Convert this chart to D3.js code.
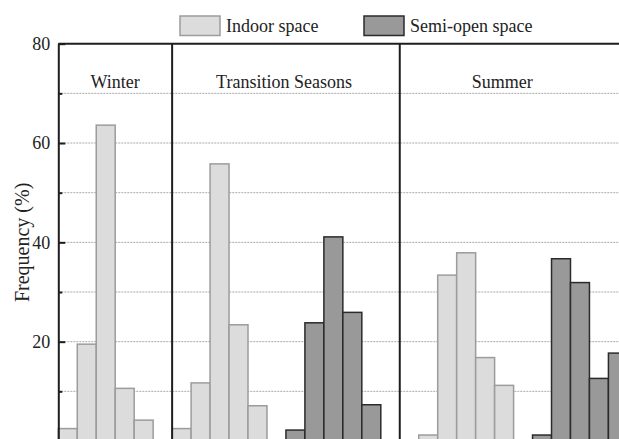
<!DOCTYPE html>
<html>
<head>
<meta charset="utf-8">
<script src="https://cdn.jsdelivr.net/npm/d3@7"></script>
<style>
  html, body { margin: 0; padding: 0; background: #fff; }
  svg { display: block; font-family: "Liberation Serif", "Times New Roman", serif; }
</style>
</head>
<body>
<svg id="chart" width="619" height="439"></svg>
<script>
// Season panels and the number of bin slots each one spans
const seasons = ["Winter", "Transition Seasons", "Summer"];
const panelSlots = [6, 12, 12];

// Frequency (%) per bin; indoor bins start at the panel's first slot,
// semi-open bins start at slot 6 of the panel
const indoorWinter = [2.5, 19.5, 63.6, 10.6, 4.2];
const semiWinter = [];
const indoorTransition = [2.5, 11.7, 55.8, 23.4, 7.1];
const semiTransition = [2.2, 23.8, 41.1, 25.9, 7.3];
const indoorSummer = [0, 1.2, 33.4, 37.9, 16.8, 11.2];
const semiSummer = [0, 1.2, 36.7, 31.9, 12.6, 17.7];

const seriesNames = ["Indoor space", "Semi-open space"];
const majorTicks = [20, 40, 60, 80];
const minorTicks = [10, 30, 50, 70];

const indoorBySeason = [indoorWinter, indoorTransition, indoorSummer];
const semiBySeason = [semiWinter, semiTransition, semiSummer];

// layout
const plotLeft = 58.3, plotRight = 627.4, plotTop = 43.7, plotBottom = 441;
const semiOffset = 6;
const totalSlots = d3.sum(panelSlots);

const svg = d3.select("#chart");
const x = d3.scaleLinear().domain([0, totalSlots]).range([plotLeft, plotRight]);
const y = d3.scaleLinear().domain([0, 80]).range([plotBottom, plotTop]);

const style = {
  indoor: { fill: "#dcdcdc", stroke: "#9c9c9c" },
  semi: { fill: "#999999", stroke: "#2b2b2b" }
};

// panel start slots
const panelStart = [];
panelSlots.reduce((acc, n, i) => { panelStart[i] = acc; return acc + n; }, 0);

// dotted gridlines every 10
svg.append("g").selectAll("line")
  .data(minorTicks.concat(majorTicks.filter(v => v < 80)))
  .join("line")
  .attr("x1", x(0)).attr("x2", x(totalSlots))
  .attr("y1", d => y(d)).attr("y2", d => y(d))
  .attr("stroke", "#aaaaaa")
  .attr("stroke-width", 1)
  .attr("stroke-dasharray", "2,1");

// bars
const bars = [];
seasons.forEach((s, i) => {
  indoorBySeason[i].forEach((v, k) => bars.push({ slot: panelStart[i] + k, value: v, kind: "indoor" }));
  semiBySeason[i].forEach((v, k) => bars.push({ slot: panelStart[i] + semiOffset + k, value: v, kind: "semi" }));
});

svg.append("g").selectAll("rect")
  .data(bars.filter(d => d.value > 0))
  .join("rect")
  .attr("x", d => x(d.slot))
  .attr("width", d => x(d.slot + 1) - x(d.slot))
  .attr("y", d => y(d.value))
  .attr("height", d => y(0) - y(d.value))
  .attr("fill", d => style[d.kind].fill)
  .attr("stroke", d => style[d.kind].stroke)
  .attr("stroke-width", 1.5);

// panel dividers and top frame
svg.append("g").selectAll("line")
  .data(panelStart.slice(1))
  .join("line")
  .attr("x1", d => x(d)).attr("x2", d => x(d))
  .attr("y1", y(80)).attr("y2", y(0))
  .attr("stroke", "#1e1e1e").attr("stroke-width", 2);

svg.append("line")
  .attr("x1", x(0)).attr("x2", x(totalSlots))
  .attr("y1", y(80)).attr("y2", y(80))
  .attr("stroke", "#1e1e1e").attr("stroke-width", 2);

// left axis: major ticks with labels, minor ticks inward
const yAxis = svg.append("g")
  .attr("transform", `translate(${plotLeft},0)`)
  .call(d3.axisLeft(y).tickValues(majorTicks).tickSize(-7).tickSizeOuter(0).tickPadding(8));
yAxis.select(".domain").attr("stroke", "#1e1e1e").attr("stroke-width", 2);
yAxis.selectAll(".tick line").attr("stroke", "#1e1e1e").attr("stroke-width", 2);
yAxis.selectAll(".tick text")
  .attr("font-family", "Liberation Serif, serif")
  .attr("font-size", 18)
  .attr("fill", "#222");

const yMinor = svg.append("g")
  .attr("transform", `translate(${plotLeft},0)`)
  .call(d3.axisLeft(y).tickValues(minorTicks).tickSize(-4).tickFormat(""));
yMinor.select(".domain").remove();
yMinor.selectAll(".tick line").attr("stroke", "#1e1e1e").attr("stroke-width", 2);

// y axis title
svg.append("text")
  .attr("transform", `translate(28.5,${y(40)}) rotate(-90)`)
  .attr("text-anchor", "middle")
  .attr("font-size", 20)
  .attr("fill", "#222")
  .text("Frequency (%)");

// season labels
const labelSlot = [3, 11.9, 23.4];
svg.append("g").selectAll("text")
  .data(seasons)
  .join("text")
  .attr("x", (d, i) => x(labelSlot[i]))
  .attr("y", 88.3)
  .attr("text-anchor", "middle")
  .attr("font-size", 18)
  .attr("fill", "#222")
  .text(d => d);

// legend
const legendItems = [
  { name: seriesNames[0], kind: "indoor", x: 180 },
  { name: seriesNames[1], kind: "semi", x: 364 }
];
const lg = svg.append("g").selectAll("g")
  .data(legendItems)
  .join("g")
  .attr("transform", d => `translate(${d.x},16)`);
lg.append("rect")
  .attr("width", 40).attr("height", 19.5)
  .attr("fill", d => style[d.kind].fill)
  .attr("stroke", d => style[d.kind].stroke)
  .attr("stroke-width", 1.5);
lg.append("text")
  .attr("x", 46).attr("y", 16)
  .attr("font-size", 18)
  .attr("fill", "#222")
  .text(d => d.name);
</script>
</body>
</html>
